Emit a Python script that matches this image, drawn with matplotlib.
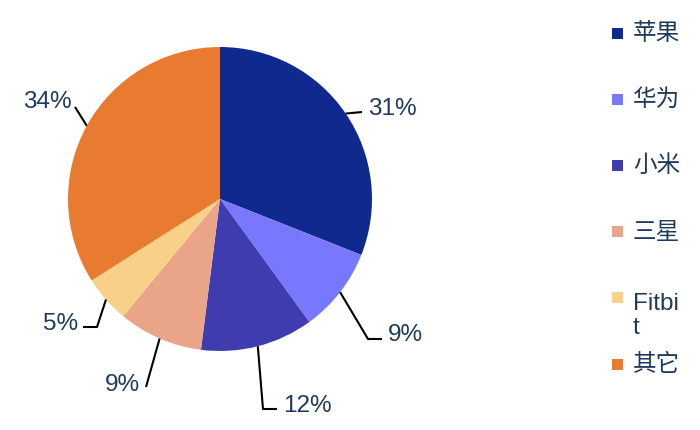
import matplotlib.pyplot as plt
import numpy as np

plt.rcParams['font.family'] = ['Liberation Sans', 'Noto Sans CJK SC']

brands = ['苹果', '华为', '小米', '三星', 'Fitbi\nt', '其它']
shares = [31, 9, 12, 9, 5, 34]
pct_labels = ['31%', '9%', '12%', '9%', '5%', '34%']
colors = ['#0F298F', '#7878FF', '#3E3CAE', '#EAA589', '#F9D088', '#E97B30']

W, H = 700, 431
txt_color = '#1F3A5F'

# leader-line layout in picture pixels (y down): elbow, line end, text anchor
elbows = [None, (368, 340), (263, 410), None, (97, 328), None]
ends = [(362, 113), (382, 340), (277, 410), (146, 388), (83, 328), (75, 108)]
text_pos = [(368, 115), (388, 341), (283, 412), (140, 391), (78, 330), (72, 108)]
text_ha = ['left', 'left', 'left', 'right', 'right', 'right']

fig = plt.figure(figsize=(W / 100, H / 100), dpi=100)
ax = fig.add_axes([0, 0, 1, 1])

cx, cy, r = 220, H - 200, 152
wedges, _ = ax.pie(shares, colors=colors, startangle=90, counterclock=False,
                   center=(cx, cy), radius=r, wedgeprops={'linewidth': 0})

def up(p):
    return (p[0], H - p[1])

for i, w in enumerate(wedges):
    mid = np.deg2rad((w.theta1 + w.theta2) / 2)
    pts = [(cx + r * np.cos(mid), cy + r * np.sin(mid))]
    if elbows[i] is not None:
        pts.append(up(elbows[i]))
    pts.append(up(ends[i]))
    xs, ys = zip(*pts)
    ax.plot(xs, ys, color='black', lw=1.5, solid_capstyle='butt')
    tx, ty = up(text_pos[i])
    ax.text(tx, ty, pct_labels[i], ha=text_ha[i], va='baseline',
            fontsize=17.5, color=txt_color)

# legend on the right
row_y0, row_step = 34, 66.2
for i, name in enumerate(brands):
    y = row_y0 + i * row_step
    ax.add_patch(plt.Rectangle((612.5, H - y - 5.5), 11, 11, color=colors[i], lw=0))
    if '\n' in name:
        ax.text(633, H - y + 6, name, ha='left', va='top', fontsize=17.5,
                color=txt_color, linespacing=1.1)
    else:
        ax.text(633, H - y, name, ha='left', va='center', fontsize=17,
                color=txt_color)

ax.set_xlim(0, W)
ax.set_ylim(0, H)
ax.set_aspect('equal')
ax.axis('off')

fig.savefig('out.png', dpi=100)
